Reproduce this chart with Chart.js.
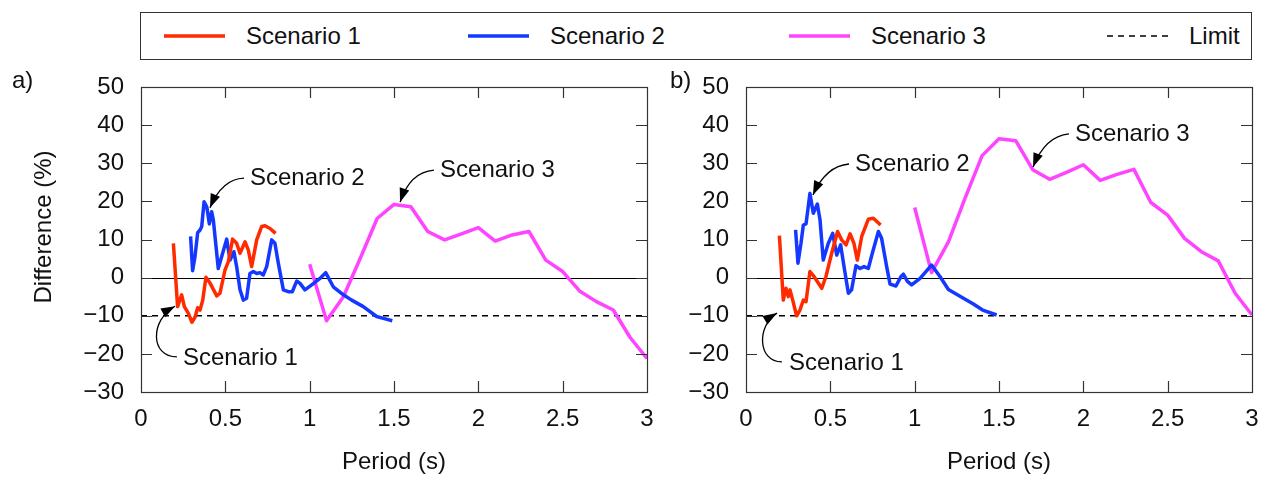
<!DOCTYPE html>
<html>
<head>
<meta charset="utf-8">
<script src="https://cdn.jsdelivr.net/npm/chart.js@4.4.0/dist/chart.umd.min.js"></script>
<style>
  body { margin: 0; width: 1270px; height: 478px; background: #fff; position: relative; overflow: hidden; font-family: "Liberation Sans", Arial, sans-serif; }
  #legend { position: absolute; left: 140px; top: 12px; width: 1112px; height: 48px; box-sizing: border-box; border: 1px solid #333; }
  .item { position: absolute; top: 0; height: 46px; display: flex; align-items: center; font-size: 24px; color: #111; white-space: nowrap; }
  .item svg { margin-right: 21px; }
  #wrapA { position: absolute; left: 0; top: 0; width: 660px; height: 478px; }
  #wrapB { position: absolute; left: 660px; top: 0; width: 610px; height: 478px; }
</style>
</head>
<body>
<div id="legend"></div>
<div id="wrapA"><canvas id="chartA"></canvas></div>
<div id="wrapB"><canvas id="chartB"></canvas></div>
<script>
// series names and colours
const seriesNames = ["Scenario 1", "Scenario 2", "Scenario 3", "Limit"];
const seriesColors = ["#ff2a00", "#1438ff", "#ff44ff", "#000000"];

// axis ticks
const xTicks = [0, 0.5, 1, 1.5, 2, 2.5, 3];
const yTicks = [-30, -20, -10, 0, 10, 20, 30, 40, 50];
const limitValue = -10;

// panel a) - Scenario 1
const periodA1 = [0.192, 0.217, 0.241, 0.257, 0.281, 0.302, 0.32, 0.336, 0.35, 0.366, 0.385, 0.41, 0.449, 0.468, 0.498, 0.518, 0.543, 0.567, 0.587, 0.617, 0.636, 0.656, 0.686, 0.715, 0.735, 0.765, 0.798];
const diffA1 = [9.0, -7.6, -4.5, -7.6, -9.4, -11.7, -10.4, -7.9, -8.5, -5.9, 0.1, -1.5, -4.8, -4.1, 2.0, 4.2, 10.1, 9.0, 6.4, 9.4, 7.3, 2.9, 9.9, 13.4, 13.6, 12.9, 11.6];

// panel a) - Scenario 2
const periodA2 = [0.294, 0.306, 0.32, 0.336, 0.35, 0.36, 0.374, 0.39, 0.405, 0.419, 0.429, 0.445, 0.458, 0.478, 0.508, 0.528, 0.551, 0.567, 0.587, 0.607, 0.626, 0.646, 0.666, 0.686, 0.705, 0.725, 0.745, 0.775, 0.794, 0.814, 0.844, 0.873, 0.897, 0.923, 0.943, 0.972, 1.012, 1.061, 1.095, 1.14, 1.2, 1.249, 1.318, 1.397, 1.437, 1.49];
const diffA2 = [10.8, 1.8, 5.5, 11.8, 12.5, 13.4, 19.9, 18.6, 14.1, 17.3, 15.1, 8.1, 2.4, 5.5, 10.1, 4.6, 6.8, 2.9, -3.2, -5.9, -5.4, 1.1, 1.6, 1.1, 1.3, 0.7, 2.9, 9.9, 9.0, 3.8, -3.2, -3.7, -3.7, -0.9, -1.5, -3.2, -1.9, -0.2, 1.3, -2.4, -4.5, -5.9, -7.6, -10.2, -10.7, -11.3];

// panel a) - Scenario 3
const periodA3 = [1.0, 1.1, 1.2, 1.3, 1.4, 1.5, 1.6, 1.7, 1.8, 1.9, 2.0, 2.1, 2.2, 2.3, 2.4, 2.5, 2.6, 2.7, 2.8, 2.9, 3.0];
const diffA3 = [3.5, -11.3, -5.0, 5.1, 15.5, 19.2, 18.6, 12.1, 9.9, 11.5, 13.1, 9.6, 11.2, 12.1, 4.6, 1.6, -3.5, -6.3, -8.5, -15.7, -21.2];

// panel b) - Scenario 1
const periodB1 = [0.198, 0.221, 0.237, 0.251, 0.261, 0.277, 0.30, 0.32, 0.34, 0.356, 0.379, 0.403, 0.449, 0.474, 0.508, 0.543, 0.567, 0.593, 0.617, 0.64, 0.66, 0.686, 0.725, 0.755, 0.798];
const diffB1 = [11.0, -5.9, -2.8, -5.0, -3.2, -5.9, -10.0, -8.5, -5.9, -6.3, 1.6, 0.3, -2.8, 0.3, 6.4, 12.1, 9.9, 8.6, 11.5, 9.0, 4.6, 10.8, 15.3, 15.6, 13.8];

// panel b) - Scenario 2
const periodB2 = [0.294, 0.308, 0.326, 0.34, 0.356, 0.379, 0.399, 0.423, 0.439, 0.458, 0.488, 0.514, 0.538, 0.561, 0.581, 0.607, 0.626, 0.652, 0.676, 0.7, 0.725, 0.749, 0.785, 0.804, 0.834, 0.854, 0.889, 0.919, 0.933, 0.957, 0.982, 1.032, 1.1, 1.15, 1.2, 1.289, 1.348, 1.403, 1.486];
const diffB2 = [12.5, 3.8, 9.0, 13.8, 14.1, 22.1, 16.9, 19.3, 15.1, 4.6, 9.0, 11.6, 5.9, 8.6, 2.9, -4.1, -3.2, 3.1, 2.4, 2.9, 2.4, 6.4, 12.1, 10.3, 2.9, -1.7, -2.2, 0.3, 0.9, -1.0, -1.9, -0.2, 3.3, 0.3, -3.1, -5.4, -6.9, -8.5, -9.8];

// panel b) - Scenario 3
const periodB3 = [1.0, 1.1, 1.2, 1.3, 1.4, 1.5, 1.6, 1.7, 1.8, 1.9, 2.0, 2.1, 2.2, 2.3, 2.4, 2.5, 2.6, 2.7, 2.8, 2.9, 3.0];
const diffB3 = [18.4, 1.3, 9.4, 21.0, 32.0, 36.4, 35.9, 28.3, 25.8, 27.6, 29.6, 25.5, 27.1, 28.4, 19.7, 16.4, 10.3, 6.8, 4.4, -4.1, -9.8];

const FONT = '"Liberation Sans", Arial, sans-serif';
const FSIZE = 24;

// annotations in data units: text position, arrow start, control point(s), tip
const notesA = [
  { text: "Scenario 1", at: [0.249, -21.1], path: [[0.213, -20.8], [0.053, -20.8], [0.053, -11.1], [0.202, -7.5]] },
  { text: "Scenario 2", at: [0.646, 26.1], path: [[0.611, 26.1], [0.48, 25.9], [0.409, 18.3]] },
  { text: "Scenario 3", at: [1.773, 28.2], path: [[1.737, 28.2], [1.595, 27.7], [1.536, 19.8]] }
];
const notesB = [
  { text: "Scenario 1", at: [0.255, -22.4], path: [[0.213, -22.1], [0.065, -22.1], [0.065, -12.4], [0.184, -9.3]] },
  { text: "Scenario 2", at: [0.646, 29.8], path: [[0.611, 29.8], [0.474, 29.3], [0.397, 21.7]] },
  { text: "Scenario 3", at: [1.95, 37.7], path: [[1.915, 37.7], [1.773, 37.1], [1.702, 29.0]] }
];

function toPoints(xs, ys) {
  return xs.map((x, i) => ({ x: x, y: ys[i] }));
}

// legend (shared by both panels)
const legendX = [23, 327, 648, 966];
const legend = document.getElementById("legend");
seriesNames.forEach((name, i) => {
  const item = document.createElement("div");
  item.className = "item";
  item.style.left = legendX[i] + "px";
  const dash = i === 3 ? ' stroke-dasharray="6 5"' : "";
  const w = i === 3 ? 1.5 : 3.5;
  item.innerHTML = '<svg width="61" height="10"><line x1="0" y1="5" x2="61" y2="5" stroke="' + seriesColors[i] + '" stroke-width="' + w + '"' + dash + '/></svg>' + name;
  legend.appendChild(item);
});

function drawArrow(ctx, pts) {
  ctx.save();
  ctx.strokeStyle = "#000";
  ctx.fillStyle = "#000";
  ctx.lineWidth = 1.3;
  ctx.beginPath();
  ctx.moveTo(pts[0][0], pts[0][1]);
  if (pts.length === 4) {
    ctx.bezierCurveTo(pts[1][0], pts[1][1], pts[2][0], pts[2][1], pts[3][0], pts[3][1]);
  } else {
    ctx.quadraticCurveTo(pts[1][0], pts[1][1], pts[2][0], pts[2][1]);
  }
  ctx.stroke();
  // arrow head along the last tangent
  const tip = pts[pts.length - 1];
  const prev = pts[pts.length - 2];
  const ang = Math.atan2(tip[1] - prev[1], tip[0] - prev[0]);
  const len = 14, half = 5;
  ctx.beginPath();
  ctx.moveTo(tip[0], tip[1]);
  ctx.lineTo(tip[0] - len * Math.cos(ang) + half * Math.sin(ang), tip[1] - len * Math.sin(ang) - half * Math.cos(ang));
  ctx.lineTo(tip[0] - len * Math.cos(ang) - half * Math.sin(ang), tip[1] - len * Math.sin(ang) + half * Math.cos(ang));
  ctx.closePath();
  ctx.fill();
  ctx.restore();
}

const framePlugin = {
  id: "frame",
  beforeDatasetsDraw(chart) {
    const { ctx, chartArea: a, scales } = chart;
    const y0 = Math.round(scales.y.getPixelForValue(0)) + 0.5;
    ctx.save();
    ctx.strokeStyle = "#000";
    ctx.lineWidth = 1;
    ctx.beginPath();
    ctx.moveTo(a.left, y0);
    ctx.lineTo(a.right, y0);
    ctx.stroke();
    ctx.restore();
  },
  afterDraw(chart, args, opts) {
    const { ctx, chartArea: a, scales } = chart;
    const xs = scales.x, ys = scales.y;
    ctx.save();
    ctx.strokeStyle = "#333";
    ctx.lineWidth = 1.2;
    ctx.strokeRect(a.left + 0.5, a.top + 0.5, a.right - a.left, a.bottom - a.top);
    const tl = 11;
    ctx.beginPath();
    xTicks.forEach((v) => {
      if (v === xs.min || v === xs.max) return;
      const px = Math.round(xs.getPixelForValue(v)) + 0.5;
      ctx.moveTo(px, a.bottom); ctx.lineTo(px, a.bottom - tl);
      ctx.moveTo(px, a.top); ctx.lineTo(px, a.top + tl);
    });
    yTicks.forEach((v) => {
      if (v === ys.min || v === ys.max) return;
      const py = Math.round(ys.getPixelForValue(v)) + 0.5;
      ctx.moveTo(a.left, py); ctx.lineTo(a.left + tl, py);
      ctx.moveTo(a.right, py); ctx.lineTo(a.right - tl, py);
    });
    ctx.stroke();

    // annotations
    ctx.font = FSIZE + "px " + FONT;
    ctx.fillStyle = "#111";
    ctx.textBaseline = "middle";
    ctx.textAlign = "left";
    opts.notes.forEach((n) => {
      ctx.fillText(n.text, xs.getPixelForValue(n.at[0]), ys.getPixelForValue(n.at[1]));
      drawArrow(ctx, n.path.map((p) => [xs.getPixelForValue(p[0]), ys.getPixelForValue(p[1])]));
    });

    // panel letter
    ctx.fillStyle = "#111";
    ctx.fillText(opts.letter, opts.letterX, 81);

    // y axis title
    if (opts.yTitle) {
      ctx.save();
      ctx.translate(44, 227);
      ctx.rotate(-Math.PI / 2);
      ctx.textAlign = "center";
      ctx.fillText(opts.yTitle, 0, 0);
      ctx.restore();
    }
    ctx.restore();
  }
};

function makeChart(id, s1, s2, s3, yWidth, rightPad, letter, letterX, notes, yTitle) {
  const datasets = [s1, s2, s3].map((pts, i) => ({
    label: seriesNames[i],
    data: pts,
    borderColor: seriesColors[i],
    borderWidth: 3.5,
    pointRadius: 0,
    tension: 0,
    borderJoinStyle: "round",
    fill: false
  }));
  datasets.push({
    label: seriesNames[3],
    data: [{ x: xTicks[0], y: limitValue }, { x: xTicks[xTicks.length - 1], y: limitValue }],
    borderColor: seriesColors[3],
    borderWidth: 1.4,
    borderDash: [6, 5],
    pointRadius: 0,
    fill: false
  });

  return new Chart(document.getElementById(id), {
    type: "line",
    data: { datasets: datasets },
    options: {
      responsive: true,
      maintainAspectRatio: false,
      animation: false,
      layout: { padding: { top: 87, right: rightPad, bottom: 0, left: 0 } },
      plugins: {
        legend: { display: false },
        tooltip: { enabled: false },
        frame: { notes: notes, letter: letter, letterX: letterX, yTitle: yTitle }
      },
      scales: {
        x: {
          type: "linear",
          min: 0,
          max: 3,
          afterBuildTicks: (scale) => { scale.ticks = xTicks.map((v) => ({ value: v })); },
          ticks: {
            color: "#111",
            padding: 5,
            font: { family: FONT, size: FSIZE },
            maxRotation: 0,
            callback: (v) => String(v)
          },
          grid: { display: false },
          border: { display: false },
          title: { display: true, text: "Period (s)", color: "#111", font: { family: FONT, size: FSIZE }, padding: { top: 0, bottom: 1 } },
          afterFit: (scale) => { scale.height = 86; }
        },
        y: {
          min: -30,
          max: 50,
          afterBuildTicks: (scale) => { scale.ticks = yTicks.map((v) => ({ value: v })); },
          ticks: {
            color: "#111",
            padding: 9,
            font: { family: FONT, size: FSIZE },
            callback: (v) => (v < 0 ? "\u2212" + Math.abs(v) : String(v))
          },
          grid: { display: false },
          border: { display: false },
          afterFit: (scale) => { scale.width = yWidth; }
        }
      }
    },
    plugins: [framePlugin]
  });
}

makeChart("chartA", toPoints(periodA1, diffA1), toPoints(periodA2, diffA2), toPoints(periodA3, diffA3),
  141, 13, "a)", 12, notesA, "Difference (%)");
makeChart("chartB", toPoints(periodB1, diffB1), toPoints(periodB2, diffB2), toPoints(periodB3, diffB3),
  86, 18, "b)", 10, notesB, null);
</script>
</body>
</html>
